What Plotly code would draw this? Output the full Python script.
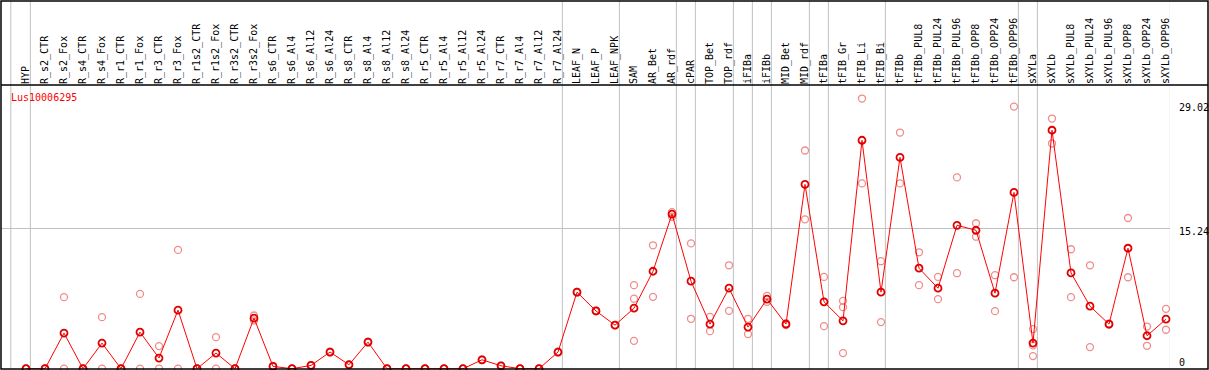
import plotly.graph_objects as go

# ---------------- data ----------------
categories = [
    "HYP", "R_s2_CTR", "R_s2_Fox", "R_s4_CTR", "R_s4_Fox", "R_r1_CTR", "R_r1_Fox",
    "R_r3_CTR", "R_r3_Fox", "R_r1s2_CTR", "R_r1s2_Fox", "R_r3s2_CTR", "R_r3s2_Fox",
    "R_s6_CTR", "R_s6_Al4", "R_s6_Al12", "R_s6_Al24", "R_s8_CTR", "R_s8_Al4",
    "R_s8_Al12", "R_s8_Al24", "R_r5_CTR", "R_r5_Al4", "R_r5_Al12", "R_r5_Al24",
    "R_r7_CTR", "R_r7_Al4", "R_r7_Al12", "R_r7_Al24", "LEAF_N", "LEAF_P", "LEAF_NPK",
    "SAM", "AR_Bet", "AR_rdf", "cPAR", "TOP_Bet", "TOP_rdf", "iFIBa", "iFIBb",
    "MID_Bet", "MID_rdf", "tFIBa", "tFIB_Gr", "tFIB_Li", "tFIB_Bi", "tFIBb",
    "tFIBb_PUL8", "tFIBb_PUL24", "tFIBb_PUL96", "tFIBb_OPP8", "tFIBb_OPP24",
    "tFIBb_OPP96", "sXYLa", "sXYLb", "sXYLb_PUL8", "sXYLb_PUL24", "sXYLb_PUL96",
    "sXYLb_OPP8", "sXYLb_OPP24", "sXYLb_OPP96",
]

mean_values = [
    0, 0, 3.87, 0, 2.78, 0, 3.97, 1.16, 6.36, 0, 1.70, 0, 5.49,
    0.25, 0, 0.36, 1.81, 0.43, 2.89, 0, 0, 0, 0, 0, 0.97, 0.32, 0, 0, 1.81,
    8.31, 6.27, 4.73,
    6.57, 10.58, 16.79, 9.50, 4.84, 8.74, 4.52, 7.55, 4.84, 20.01,
    7.26, 5.20, 24.80, 8.31, 22.94,
    10.91, 8.74, 15.57, 15.03, 8.20, 19.14,
    2.78, 25.89,
    10.40, 6.79, 4.84, 13.08, 3.58, 5.38,
]

replicate_1 = [
    0, 0, 7.77, 0, 5.60, 0, 8.12, 2.46, 12.90, 0, 3.43, 0, 5.78,
    0.30, 0, 0.40, 1.85, 0.45, 2.93, 0, 0, 0, 0, 0, 1.00, 0.34, 0, 0, 1.85,
    8.35, 6.30, 4.76,
    9.07, 13.40, 17.00, 13.60, 5.63, 11.23, 5.42, 7.91, 4.95, 23.69,
    9.97, 7.37, 29.33, 11.67, 25.64,
    12.64, 9.97, 20.77, 15.79, 10.15, 28.46,
    4.30, 27.16,
    12.97, 11.23, 4.90, 16.36, 4.58, 6.50,
]

replicate_2 = [
    0, 0, 0, 0, 0, 0, 0, 0, 0, 0, 0, 0, 5.24,
    0.20, 0, 0.32, 1.77, 0.41, 2.85, 0, 0, 0, 0, 0, 0.94, 0.30, 0, 0, 1.77,
    8.27, 6.24, 4.70,
    7.60, 7.80, 16.50, 5.42, 4.08, 6.28, 3.76, 7.26, 4.73, 16.22,
    4.62, 6.68, 20.12, 5.06, 20.12,
    9.07, 7.55, 10.37, 14.33, 6.25, 9.93,
    2.53, 24.45,
    7.77, 2.35, 4.80, 9.93, 2.49, 4.23,
]

# third replicate only where one was visible
replicate_3 = {"SAM": 3.03, "tFIB_Gr": 1.70, "sXYLa": 1.37}

gene_label = "Lus10006295"
y_tick_labels = ["29.02", "15.24", "0"]
y_tick_values = [29.02, 15.24, 0]

# categories after which a vertical separator line is drawn
separator_after = ["HYP", "R_r7_Al24", "LEAF_NPK", "AR_rdf", "cPAR", "TOP_rdf",
                   "iFIBa", "iFIBb", "MID_rdf", "tFIBa", "tFIB_Bi", "tFIBb_OPP96",
                   "sXYLa", "sXYLb_OPP96"]

# ---------------- layout geometry ----------------
W, H = 1209, 370
ML, MR, MT, MB = 1, 39, 85, 1
PW = W - ML - MR
PH = H - MT - MB

def px_x(p):  # pixel -> paper x
    return (p - ML) / PW

def px_y(p):  # pixel -> paper y
    return (H - MB - p) / PH

idx = list(range(len(categories)))
FONT = "DejaVu Sans Mono"

fig = go.Figure()

# replicate circles
rep_x, rep_y = [], []
for i, c in enumerate(categories):
    rep_x += [i, i]
    rep_y += [replicate_1[i], replicate_2[i]]
    if c in replicate_3:
        rep_x.append(i)
        rep_y.append(replicate_3[c])

fig.add_trace(go.Scatter(
    x=rep_x, y=rep_y, mode="markers",
    marker=dict(symbol="circle-open", size=7, color="rgb(240,140,140)",
                line=dict(width=1.3)),
    hoverinfo="skip", showlegend=False, cliponaxis=False,
))

# mean line with markers
fig.add_trace(go.Scatter(
    x=idx, y=mean_values, mode="lines+markers",
    line=dict(color="#ff0000", width=1),
    marker=dict(symbol="circle-open", size=7, color="#e00000",
                line=dict(width=1.8)),
    showlegend=False, cliponaxis=False,
))

shapes = []
top_paper = px_y(0.5)
for name in separator_after:
    xv = categories.index(name) + 0.23
    shapes.append(dict(type="line", xref="x", yref="paper", x0=xv, x1=xv,
                       y0=0, y1=top_paper, line=dict(color="#c0c0c0", width=1),
                       layer="below"))
shapes.append(dict(type="line", xref="x", yref="paper", x0=-0.8, x1=-0.8,
                   y0=0, y1=top_paper, line=dict(color="#c0c0c0", width=1),
                   layer="below"))
# frame
shapes.append(dict(type="rect", xref="paper", yref="paper",
                   x0=px_x(1), x1=px_x(1208), y0=px_y(369), y1=px_y(1),
                   line=dict(color="black", width=1.5)))
shapes.append(dict(type="line", xref="paper", yref="paper",
                   x0=px_x(1), x1=px_x(1208), y0=1, y1=1,
                   line=dict(color="black", width=1.5)))

annotations = [
    dict(text=gene_label, xref="paper", yref="paper", x=px_x(9), y=px_y(97),
         xanchor="left", yanchor="middle", showarrow=False,
         font=dict(family=FONT, size=10, color="#ff0000")),
]
label_px = [107.3, 231.2, 362]
for t, p in zip(y_tick_labels, label_px):
    annotations.append(dict(text=t, xref="paper", yref="paper", x=px_x(1177),
                            y=px_y(p), xanchor="left", yanchor="middle",
                            showarrow=False,
                            font=dict(family=FONT, size=10, color="black")))

fig.update_layout(
    width=W, height=H,
    margin=dict(l=ML, r=MR, t=MT, b=MB, pad=0),
    paper_bgcolor="white", plot_bgcolor="white",
    xaxis=dict(range=[(1 - 26) / 19, (1170 - 26) / 19], side="top",
               tickmode="array", tickvals=idx, ticktext=categories,
               tickangle=-90, ticks="", showgrid=False, zeroline=False,
               showline=False, tickfont=dict(family=FONT, size=10, color="black"),
               fixedrange=True),
    yaxis=dict(range=[-0.03, 30.8], tickmode="array", tickvals=[y_tick_values[1]],
               showticklabels=False, showgrid=True, gridcolor="#c0c0c0",
               gridwidth=1, zeroline=False, showline=False, fixedrange=True),
    shapes=shapes, annotations=annotations,
)

fig.write_html("out.html", config={"displayModeBar": False})
with open("out.html") as f:
    html = f.read()
html = html.replace("<head>", "<head><style>body{margin:0;padding:0;overflow:hidden}</style>", 1)
with open("out.html", "w") as f:
    f.write(html)
